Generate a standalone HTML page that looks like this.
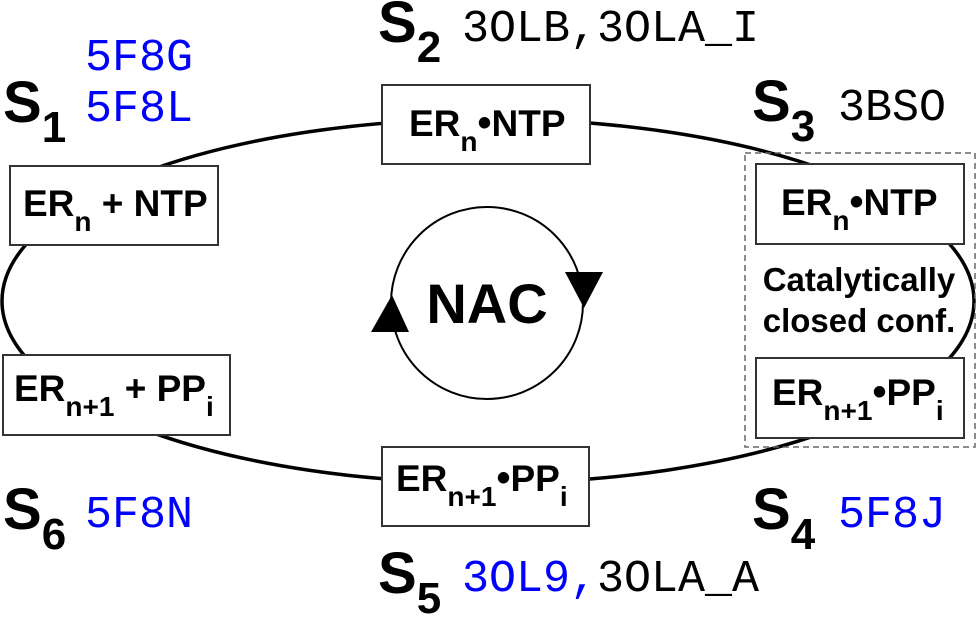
<!DOCTYPE html>
<html><head><meta charset="utf-8"><style>
body{margin:0;background:#fff;}
svg{display:block;}
.b{font-family:"Liberation Sans",sans-serif;font-weight:bold;}
.m{font-family:"Liberation Mono",monospace;}
</style></head><body>
<svg width="976" height="621" xmlns="http://www.w3.org/2000/svg">
<ellipse cx="488" cy="301" rx="486" ry="182" fill="none" stroke="#000" stroke-width="3.5"/>
<rect x="745" y="153" width="230" height="294" fill="none" stroke="#666" stroke-width="1.5" stroke-dasharray="6,4"/>
<g fill="#fff" stroke="#333" stroke-width="2">
<rect x="10" y="166" width="208" height="79"/>
<rect x="382" y="85" width="208" height="79"/>
<rect x="756" y="164" width="208" height="80"/>
<rect x="756" y="358" width="208" height="80"/>
<rect x="382" y="447" width="207" height="79"/>
<rect x="3" y="355" width="227" height="80"/>
</g>
<circle cx="487" cy="303" r="96" fill="none" stroke="#000" stroke-width="2"/>
<polygon points="392,295 371,332 409,332" fill="#000"/>
<polygon points="584,308 565,272 603,272" fill="#000"/>
<text x="487" y="323" class="b" font-size="56" text-anchor="middle">NAC</text>
<g class="b" font-size="37">
<text x="23" y="216">ER<tspan font-size="28" dy="15">n</tspan><tspan dy="-15"> + NTP</tspan></text>
<text x="409" y="136">ER<tspan font-size="28" dy="15">n</tspan><tspan dy="-15" font-size="40">•</tspan><tspan>NTP</tspan></text>
<text x="781" y="215">ER<tspan font-size="28" dy="15">n</tspan><tspan dy="-15" font-size="40">•</tspan><tspan>NTP</tspan></text>
<text x="772" y="405">ER<tspan font-size="28" dy="15">n+1</tspan><tspan dy="-15" font-size="40">•</tspan><tspan>PP</tspan><tspan font-size="28" dy="15">i</tspan></text>
<text x="396" y="491">ER<tspan font-size="28" dy="15">n+1</tspan><tspan dy="-15" font-size="40">•</tspan><tspan>PP</tspan><tspan font-size="28" dy="15">i</tspan></text>
<text x="14" y="401">ER<tspan font-size="28" dy="15">n+1</tspan><tspan dy="-15"> + PP</tspan><tspan font-size="28" dy="15">i</tspan></text>
</g>
<g class="b" font-size="33" text-anchor="middle">
<text x="859" y="291">Catalytically</text>
<text x="859" y="332">closed conf.</text>
</g>
<g class="b" font-size="58">
<text x="3" y="122">S<tspan font-size="44" dy="20">1</tspan></text>
<text x="378" y="42">S<tspan font-size="44" dy="20">2</tspan></text>
<text x="752" y="121">S<tspan font-size="44" dy="20">3</tspan></text>
<text x="752" y="529">S<tspan font-size="44" dy="20">4</tspan></text>
<text x="378" y="593">S<tspan font-size="44" dy="20">5</tspan></text>
<text x="3" y="529">S<tspan font-size="44" dy="20">6</tspan></text>
</g>
<g class="m" font-size="45">
<text x="85" y="70" fill="#0000ff">5F8G</text>
<text x="85" y="121" fill="#0000ff">5F8L</text>
<text x="462" y="41" fill="#000">3OLB,3OLA_I</text>
<text x="838" y="120" fill="#000">3BSO</text>
<text x="838" y="527" fill="#0000ff">5F8J</text>
<text x="85" y="527" fill="#0000ff">5F8N</text>
<text x="462" y="591"><tspan fill="#0000ff">3OL9,</tspan><tspan fill="#000">3OLA_A</tspan></text>
</g>
</svg>
</body></html>
